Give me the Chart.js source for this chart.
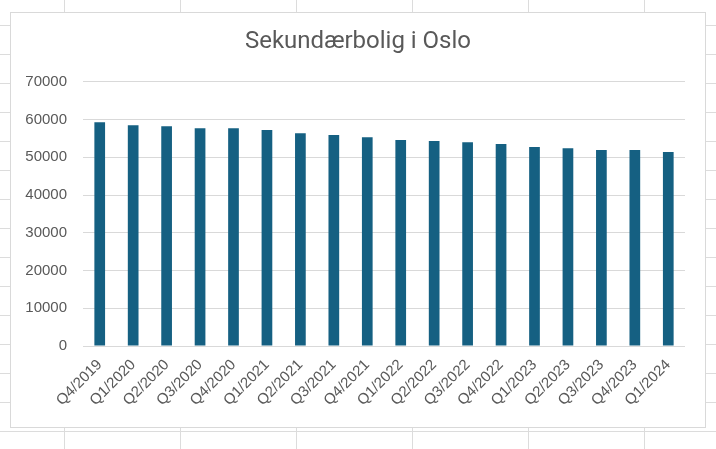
<!DOCTYPE html>
<html>
<head>
<meta charset="utf-8">
<script src="https://cdn.jsdelivr.net/npm/chart.js@4"></script>
<style>
  html, body {
    margin: 0;
    width: 716px;
    height: 449px;
    overflow: hidden;
    background-color: #fff;
    background-image: linear-gradient(to right, #dcdcdc 1px, transparent 1px),
                      linear-gradient(to bottom, #dcdcdc 1px, transparent 1px);
    background-size: 116px 29px;
    background-position: 64px 25px;
  }
  #box {
    position: absolute;
    left: 10px;
    top: 12px;
    width: 694px;
    height: 414px;
    border: 1px solid #d9d9d9;
    background: #fff;
  }
</style>
</head>
<body>
<div id="box"><canvas id="chart" width="694" height="414"></canvas></div>
<script>
document.addEventListener('DOMContentLoaded', function() {
    // Data
    const quarters = [
        "Q4/2019", "Q1/2020", "Q2/2020", "Q3/2020", "Q4/2020",
        "Q1/2021", "Q2/2021", "Q3/2021", "Q4/2021",
        "Q1/2022", "Q2/2022", "Q3/2022", "Q4/2022",
        "Q1/2023", "Q2/2023", "Q3/2023", "Q4/2023", "Q1/2024"
    ];
    const units = [
        59300, 58500, 58200, 57700, 57700,
        57200, 56400, 55900, 55300,
        54600, 54300, 54000, 53500,
        52700, 52400, 51900, 51900, 51400
    ];
    const yMax = 70000;
    const yStep = 10000;

    const textColor = '#595959';
    const gridColor = '#d9d9d9';

    const ctx = document.getElementById('chart').getContext('2d');
    new Chart(ctx, {
        type: 'bar',
        data: {
            labels: quarters,
            datasets: [{
                label: 'Sekundærbolig i Oslo',
                data: units,
                backgroundColor: '#156082',
                borderWidth: 0,
                categoryPercentage: 1,
                barPercentage: 0.32
            }]
        },
        options: {
            responsive: false,
            animation: false,
            // equal side padding keeps the title centred on the box
            layout: { padding: { left: 10, right: 10, top: 0, bottom: 0 } },
            plugins: {
                legend: { display: false },
                tooltip: { enabled: false },
                title: {
                    display: true,
                    text: 'Sekundærbolig i Oslo',
                    color: textColor,
                    font: { family: 'Roboto', size: 24, weight: 'normal' },
                    padding: { top: 15, bottom: 25 }
                }
            },
            scales: {
                x: {
                    grid: { display: false },
                    border: { display: false },
                    ticks: {
                        color: textColor,
                        font: { family: 'Liberation Sans', size: 15 },
                        minRotation: 45,
                        maxRotation: 45,
                        autoSkip: false,
                        padding: 2
                    },
                    afterFit: function(scale) { scale.height = 81; }
                },
                y: {
                    min: 0,
                    max: yMax,
                    grid: { color: gridColor, drawTicks: false },
                    border: { display: false },
                    ticks: {
                        stepSize: yStep,
                        color: textColor,
                        font: { family: 'Liberation Sans', size: 15 },
                        padding: 16,
                        callback: function(value) { return String(value); }
                    },
                    afterFit: function(scale) { scale.width = 62; }
                },
                // empty right-hand spacer, so the plot ends before the box edge
                spacer: {
                    type: 'linear',
                    position: 'right',
                    display: true,
                    grid: { display: false },
                    border: { display: false },
                    ticks: { display: false },
                    afterFit: function(scale) { scale.width = 10; }
                }
            }
        }
    });
});
</script>
</body>
</html>
